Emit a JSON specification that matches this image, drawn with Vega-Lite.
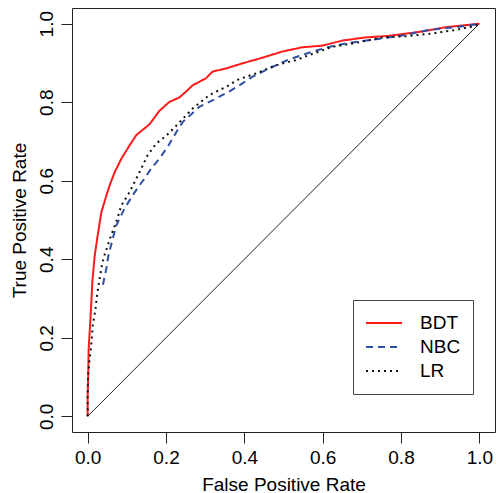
{
  "$schema": "https://vega.github.io/schema/vega-lite/v6.json",
  "width": 423,
  "height": 424,
  "autosize": {"type": "none"},
  "padding": {"left": 72, "top": 8, "right": 1, "bottom": 61},
  "background": "white",
  "config": {
    "font": "Liberation Sans",
    "view": {"stroke": "#222", "strokeWidth": 1},
    "axis": {
      "domain": false,
      "grid": false,
      "tickColor": "#222",
      "tickSize": 11,
      "labelFontSize": 19,
      "labelColor": "black",
      "labelFont": "Liberation Sans",
      "titleFont": "Liberation Sans",
      "titleFontSize": 19,
      "titleFontWeight": "normal",
      "titleColor": "black",
      "labelPadding": 4
    }
  },
  "datasets": {
    "diag": [{"fpr": 0, "tpr": 0}, {"fpr": 1, "tpr": 1}],
    "roc": [
      {"model": "BDT", "i": 0, "fpr": 0, "tpr": 0},
      {"model": "BDT", "i": 1, "fpr": 0, "tpr": 0.05},
      {"model": "BDT", "i": 2, "fpr": 0.001, "tpr": 0.087},
      {"model": "BDT", "i": 3, "fpr": 0.0025, "tpr": 0.172},
      {"model": "BDT", "i": 4, "fpr": 0.0076, "tpr": 0.256},
      {"model": "BDT", "i": 5, "fpr": 0.012, "tpr": 0.343},
      {"model": "BDT", "i": 6, "fpr": 0.018, "tpr": 0.41},
      {"model": "BDT", "i": 7, "fpr": 0.027, "tpr": 0.47},
      {"model": "BDT", "i": 8, "fpr": 0.035, "tpr": 0.52},
      {"model": "BDT", "i": 9, "fpr": 0.048, "tpr": 0.563},
      {"model": "BDT", "i": 10, "fpr": 0.056, "tpr": 0.588},
      {"model": "BDT", "i": 11, "fpr": 0.069, "tpr": 0.622},
      {"model": "BDT", "i": 12, "fpr": 0.086, "tpr": 0.656},
      {"model": "BDT", "i": 13, "fpr": 0.107, "tpr": 0.69},
      {"model": "BDT", "i": 14, "fpr": 0.124, "tpr": 0.716},
      {"model": "BDT", "i": 15, "fpr": 0.158, "tpr": 0.744},
      {"model": "BDT", "i": 16, "fpr": 0.183, "tpr": 0.778},
      {"model": "BDT", "i": 17, "fpr": 0.209, "tpr": 0.801},
      {"model": "BDT", "i": 18, "fpr": 0.234, "tpr": 0.812},
      {"model": "BDT", "i": 19, "fpr": 0.251, "tpr": 0.827},
      {"model": "BDT", "i": 20, "fpr": 0.268, "tpr": 0.843},
      {"model": "BDT", "i": 21, "fpr": 0.302, "tpr": 0.861},
      {"model": "BDT", "i": 22, "fpr": 0.319, "tpr": 0.878},
      {"model": "BDT", "i": 23, "fpr": 0.353, "tpr": 0.886},
      {"model": "BDT", "i": 24, "fpr": 0.395, "tpr": 0.899},
      {"model": "BDT", "i": 25, "fpr": 0.438, "tpr": 0.911},
      {"model": "BDT", "i": 26, "fpr": 0.497, "tpr": 0.929},
      {"model": "BDT", "i": 27, "fpr": 0.548, "tpr": 0.94},
      {"model": "BDT", "i": 28, "fpr": 0.599, "tpr": 0.944},
      {"model": "BDT", "i": 29, "fpr": 0.65, "tpr": 0.957},
      {"model": "BDT", "i": 30, "fpr": 0.709, "tpr": 0.965},
      {"model": "BDT", "i": 31, "fpr": 0.768, "tpr": 0.969},
      {"model": "BDT", "i": 32, "fpr": 0.853, "tpr": 0.98},
      {"model": "BDT", "i": 33, "fpr": 0.913, "tpr": 0.991},
      {"model": "BDT", "i": 34, "fpr": 1, "tpr": 1},
      {"model": "NBC", "i": 6, "fpr": 0.039, "tpr": 0.335},
      {"model": "NBC", "i": 7, "fpr": 0.048, "tpr": 0.378},
      {"model": "NBC", "i": 8, "fpr": 0.053, "tpr": 0.41},
      {"model": "NBC", "i": 9, "fpr": 0.064, "tpr": 0.452},
      {"model": "NBC", "i": 10, "fpr": 0.073, "tpr": 0.486},
      {"model": "NBC", "i": 11, "fpr": 0.094, "tpr": 0.529},
      {"model": "NBC", "i": 12, "fpr": 0.115, "tpr": 0.563},
      {"model": "NBC", "i": 13, "fpr": 0.132, "tpr": 0.588},
      {"model": "NBC", "i": 14, "fpr": 0.145, "tpr": 0.605},
      {"model": "NBC", "i": 15, "fpr": 0.162, "tpr": 0.631},
      {"model": "NBC", "i": 16, "fpr": 0.183, "tpr": 0.656},
      {"model": "NBC", "i": 17, "fpr": 0.204, "tpr": 0.686},
      {"model": "NBC", "i": 18, "fpr": 0.23, "tpr": 0.73},
      {"model": "NBC", "i": 19, "fpr": 0.243, "tpr": 0.75},
      {"model": "NBC", "i": 20, "fpr": 0.285, "tpr": 0.788},
      {"model": "NBC", "i": 21, "fpr": 0.327, "tpr": 0.809},
      {"model": "NBC", "i": 22, "fpr": 0.361, "tpr": 0.827},
      {"model": "NBC", "i": 23, "fpr": 0.395, "tpr": 0.848},
      {"model": "NBC", "i": 24, "fpr": 0.421, "tpr": 0.865},
      {"model": "NBC", "i": 25, "fpr": 0.463, "tpr": 0.886},
      {"model": "NBC", "i": 26, "fpr": 0.514, "tpr": 0.909},
      {"model": "NBC", "i": 27, "fpr": 0.565, "tpr": 0.926},
      {"model": "NBC", "i": 28, "fpr": 0.616, "tpr": 0.941},
      {"model": "NBC", "i": 29, "fpr": 0.667, "tpr": 0.951},
      {"model": "NBC", "i": 30, "fpr": 0.718, "tpr": 0.958},
      {"model": "NBC", "i": 31, "fpr": 0.768, "tpr": 0.965},
      {"model": "NBC", "i": 32, "fpr": 0.811, "tpr": 0.971},
      {"model": "NBC", "i": 33, "fpr": 0.87, "tpr": 0.984},
      {"model": "NBC", "i": 34, "fpr": 0.938, "tpr": 0.991},
      {"model": "NBC", "i": 35, "fpr": 1, "tpr": 1},
      {"model": "LR", "i": 0, "fpr": 0, "tpr": 0},
      {"model": "LR", "i": 1, "fpr": 0, "tpr": 0.05},
      {"model": "LR", "i": 2, "fpr": 0.001, "tpr": 0.104},
      {"model": "LR", "i": 3, "fpr": 0.005, "tpr": 0.146},
      {"model": "LR", "i": 4, "fpr": 0.009, "tpr": 0.18},
      {"model": "LR", "i": 5, "fpr": 0.013, "tpr": 0.231},
      {"model": "LR", "i": 6, "fpr": 0.02, "tpr": 0.274},
      {"model": "LR", "i": 7, "fpr": 0.024, "tpr": 0.308},
      {"model": "LR", "i": 8, "fpr": 0.029, "tpr": 0.342},
      {"model": "LR", "i": 9, "fpr": 0.032, "tpr": 0.359},
      {"model": "LR", "i": 10, "fpr": 0.037, "tpr": 0.389},
      {"model": "LR", "i": 11, "fpr": 0.044, "tpr": 0.414},
      {"model": "LR", "i": 12, "fpr": 0.06, "tpr": 0.461},
      {"model": "LR", "i": 13, "fpr": 0.073, "tpr": 0.495},
      {"model": "LR", "i": 14, "fpr": 0.086, "tpr": 0.537},
      {"model": "LR", "i": 15, "fpr": 0.107, "tpr": 0.571},
      {"model": "LR", "i": 16, "fpr": 0.12, "tpr": 0.597},
      {"model": "LR", "i": 17, "fpr": 0.137, "tpr": 0.631},
      {"model": "LR", "i": 18, "fpr": 0.153, "tpr": 0.665},
      {"model": "LR", "i": 19, "fpr": 0.175, "tpr": 0.695},
      {"model": "LR", "i": 20, "fpr": 0.2, "tpr": 0.714},
      {"model": "LR", "i": 21, "fpr": 0.226, "tpr": 0.74},
      {"model": "LR", "i": 22, "fpr": 0.268, "tpr": 0.784},
      {"model": "LR", "i": 23, "fpr": 0.31, "tpr": 0.818},
      {"model": "LR", "i": 24, "fpr": 0.353, "tpr": 0.839},
      {"model": "LR", "i": 25, "fpr": 0.387, "tpr": 0.859},
      {"model": "LR", "i": 26, "fpr": 0.429, "tpr": 0.873},
      {"model": "LR", "i": 27, "fpr": 0.48, "tpr": 0.894},
      {"model": "LR", "i": 28, "fpr": 0.531, "tpr": 0.907},
      {"model": "LR", "i": 29, "fpr": 0.565, "tpr": 0.92},
      {"model": "LR", "i": 30, "fpr": 0.624, "tpr": 0.941},
      {"model": "LR", "i": 31, "fpr": 0.684, "tpr": 0.951},
      {"model": "LR", "i": 32, "fpr": 0.751, "tpr": 0.965},
      {"model": "LR", "i": 33, "fpr": 0.811, "tpr": 0.968},
      {"model": "LR", "i": 34, "fpr": 0.879, "tpr": 0.975},
      {"model": "LR", "i": 35, "fpr": 0.938, "tpr": 0.984},
      {"model": "LR", "i": 36, "fpr": 0.989, "tpr": 0.994},
      {"model": "LR", "i": 37, "fpr": 1, "tpr": 1}
    ]
  },
  "encoding": {
    "x": {
      "field": "fpr",
      "type": "quantitative",
      "title": "False Positive Rate",
      "scale": {"domain": [-0.04, 1.04], "nice": false, "zero": false},
      "axis": {"values": [0, 0.2, 0.4, 0.6, 0.8, 1], "format": ".1f", "labelPadding": 5, "titlePadding": 8}
    },
    "y": {
      "field": "tpr",
      "type": "quantitative",
      "title": "True Positive Rate",
      "scale": {"domain": [-0.04, 1.04], "nice": false, "zero": false},
      "axis": {"values": [0, 0.2, 0.4, 0.6, 0.8, 1], "format": ".1f", "labelAngle": -90, "labelAlign": "center", "labelBaseline": "bottom", "labelPadding": 5, "titlePadding": 8}
    }
  },
  "layer": [
    {
      "data": {"name": "diag"},
      "mark": {"type": "line", "color": "#222", "strokeWidth": 1}
    },
    {
      "data": {"name": "roc"},
      "mark": {"type": "line", "strokeWidth": 2},
      "encoding": {
        "order": {"field": "i", "type": "quantitative"},
        "color": {
          "field": "model",
          "type": "nominal",
          "scale": {"domain": ["BDT", "NBC", "LR"], "range": ["#ff1a1a", "#3050a8", "#111111"]},
          "legend": {
            "title": null,
            "orient": "none",
            "legendX": 281,
            "legendY": 292,
            "symbolType": "stroke",
            "symbolSize": 1296,
            "symbolStrokeWidth": 2,
            "labelFontSize": 19,
            "labelOffset": 17,
            "labelColor": "black",
            "strokeColor": "#444",
            "fillColor": "white",
            "padding": 12,
            "rowPadding": 2,
            "clipHeight": 22
          }
        },
        "strokeDash": {
          "field": "model",
          "type": "nominal",
          "scale": {"domain": ["BDT", "NBC", "LR"], "range": [[1, 0], [7, 5], [2, 4]]},
          "legend": {
            "title": null,
            "orient": "none",
            "legendX": 281,
            "legendY": 292,
            "symbolType": "stroke",
            "symbolSize": 1296,
            "symbolStrokeWidth": 2,
            "labelFontSize": 19,
            "labelOffset": 17,
            "labelColor": "black",
            "strokeColor": "#444",
            "fillColor": "white",
            "padding": 12,
            "rowPadding": 2,
            "clipHeight": 22
          }
        }
      }
    }
  ]
}
